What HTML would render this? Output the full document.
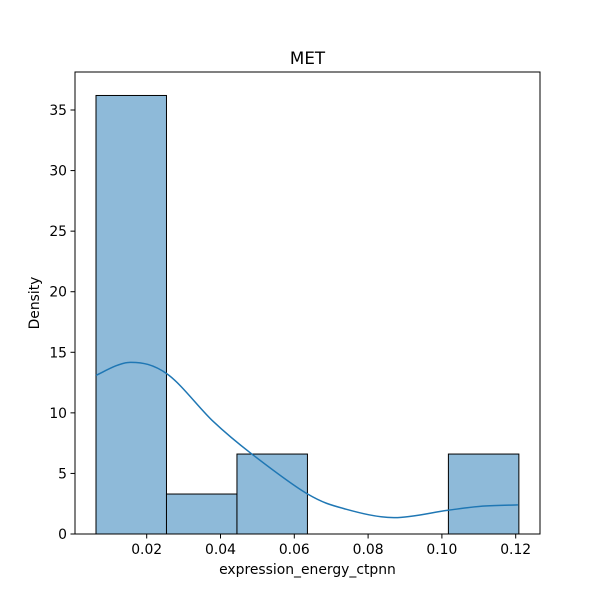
<!DOCTYPE html>
<html><head><meta charset="utf-8"><style>
body{margin:0;background:#fff}
svg{display:block;font-family:"DejaVu Sans","Liberation Sans",sans-serif}
</style></head><body>
<svg id="chart" width="600" height="600" viewBox="0 0 600 600">
<rect width="600" height="600" fill="#fff"/>
<g id="bars"></g>
<path id="kde" fill="none" stroke="#1f77b4" stroke-width="1.5"/>
<rect x="75" y="72" width="465" height="462" fill="none" stroke="#000" stroke-width="1"/>
<g id="xt"></g><g id="yt"></g>
<text x="307.5" y="64" font-size="16.7" text-anchor="middle">MET</text>
<text x="307.5" y="574" font-size="13.9" text-anchor="middle">expression_energy_ctpnn</text>
<text transform="translate(39,303) rotate(-90)" font-size="13.9" text-anchor="middle">Density</text>
</svg>
<script>
const binStart = 0.00626;
const binWidth = 0.0191;
const densities = [36.2, 3.3, 6.6, 0, 0, 6.6];
const kdeX = [0.00626, 0.0155, 0.0256, 0.038, 0.0485, 0.0636, 0.074, 0.087, 0.1014, 0.111, 0.1206];
const kdeY = [13.1, 14.17, 13.2, 9.3, 6.6, 3.3, 2.05, 1.35, 1.95, 2.3, 2.4];
const xTicks = [0.02, 0.04, 0.06, 0.08, 0.10, 0.12];
const xTickLabels = ["0.02","0.04","0.06","0.08","0.10","0.12"];
const yTicks = [0, 5, 10, 15, 20, 25, 30, 35];
const X = v => 72.9 + v * 3690;
const Y = v => 534 - v * 12.114;
const NS = "http://www.w3.org/2000/svg";
const bars = document.getElementById('bars');
densities.forEach((d, i) => {
  if (d <= 0) return;
  const r = document.createElementNS(NS, 'rect');
  const x0 = X(binStart + i * binWidth), x1 = X(binStart + (i + 1) * binWidth);
  r.setAttribute('x', x0); r.setAttribute('width', x1 - x0);
  r.setAttribute('y', Y(d)); r.setAttribute('height', Y(0) - Y(d));
  r.setAttribute('fill', '#8ebad9'); r.setAttribute('stroke', '#000'); r.setAttribute('stroke-width', '1');
  
  
  bars.appendChild(r);
});
const P = kdeX.map((x, i) => [X(x), Y(kdeY[i])]);
let d = 'M' + P[0][0] + ',' + P[0][1];
for (let i = 0; i < P.length - 1; i++) {
  const p0 = P[Math.max(0, i - 1)], p1 = P[i], p2 = P[i + 1], p3 = P[Math.min(P.length - 1, i + 2)];
  const c1 = [p1[0] + (p2[0] - p0[0]) / 6, p1[1] + (p2[1] - p0[1]) / 6];
  const c2 = [p2[0] - (p3[0] - p1[0]) / 6, p2[1] - (p3[1] - p1[1]) / 6];
  d += 'C' + c1 + ' ' + c2 + ' ' + p2;
}
document.getElementById('kde').setAttribute('d', d);
const xt = document.getElementById('xt');
xTicks.forEach((t, i) => {
  const l = document.createElementNS(NS, 'line');
  l.setAttribute('x1', X(t)); l.setAttribute('x2', X(t)); l.setAttribute('y1', 534); l.setAttribute('y2', 538.5);
  l.setAttribute('stroke', '#000');
  
  
  xt.appendChild(l);
  const tx = document.createElementNS(NS, 'text');
  tx.setAttribute('x', X(t)); tx.setAttribute('y', 554); tx.setAttribute('font-size', '13.9'); tx.setAttribute('text-anchor', 'middle');
  tx.textContent = xTickLabels[i];
  
  
  xt.appendChild(tx);
});
const yt = document.getElementById('yt');
yTicks.forEach(t => {
  const l = document.createElementNS(NS, 'line');
  l.setAttribute('x1', 70.5); l.setAttribute('x2', 75); l.setAttribute('y1', Y(t)); l.setAttribute('y2', Y(t));
  l.setAttribute('stroke', '#000');
  
  
  yt.appendChild(l);
  const tx = document.createElementNS(NS, 'text');
  tx.setAttribute('x', 67); tx.setAttribute('y', Y(t) + 5); tx.setAttribute('font-size', '13.9'); tx.setAttribute('text-anchor', 'end');
  tx.textContent = t;
  
  
  yt.appendChild(tx);
});
</script>
</body></html>
